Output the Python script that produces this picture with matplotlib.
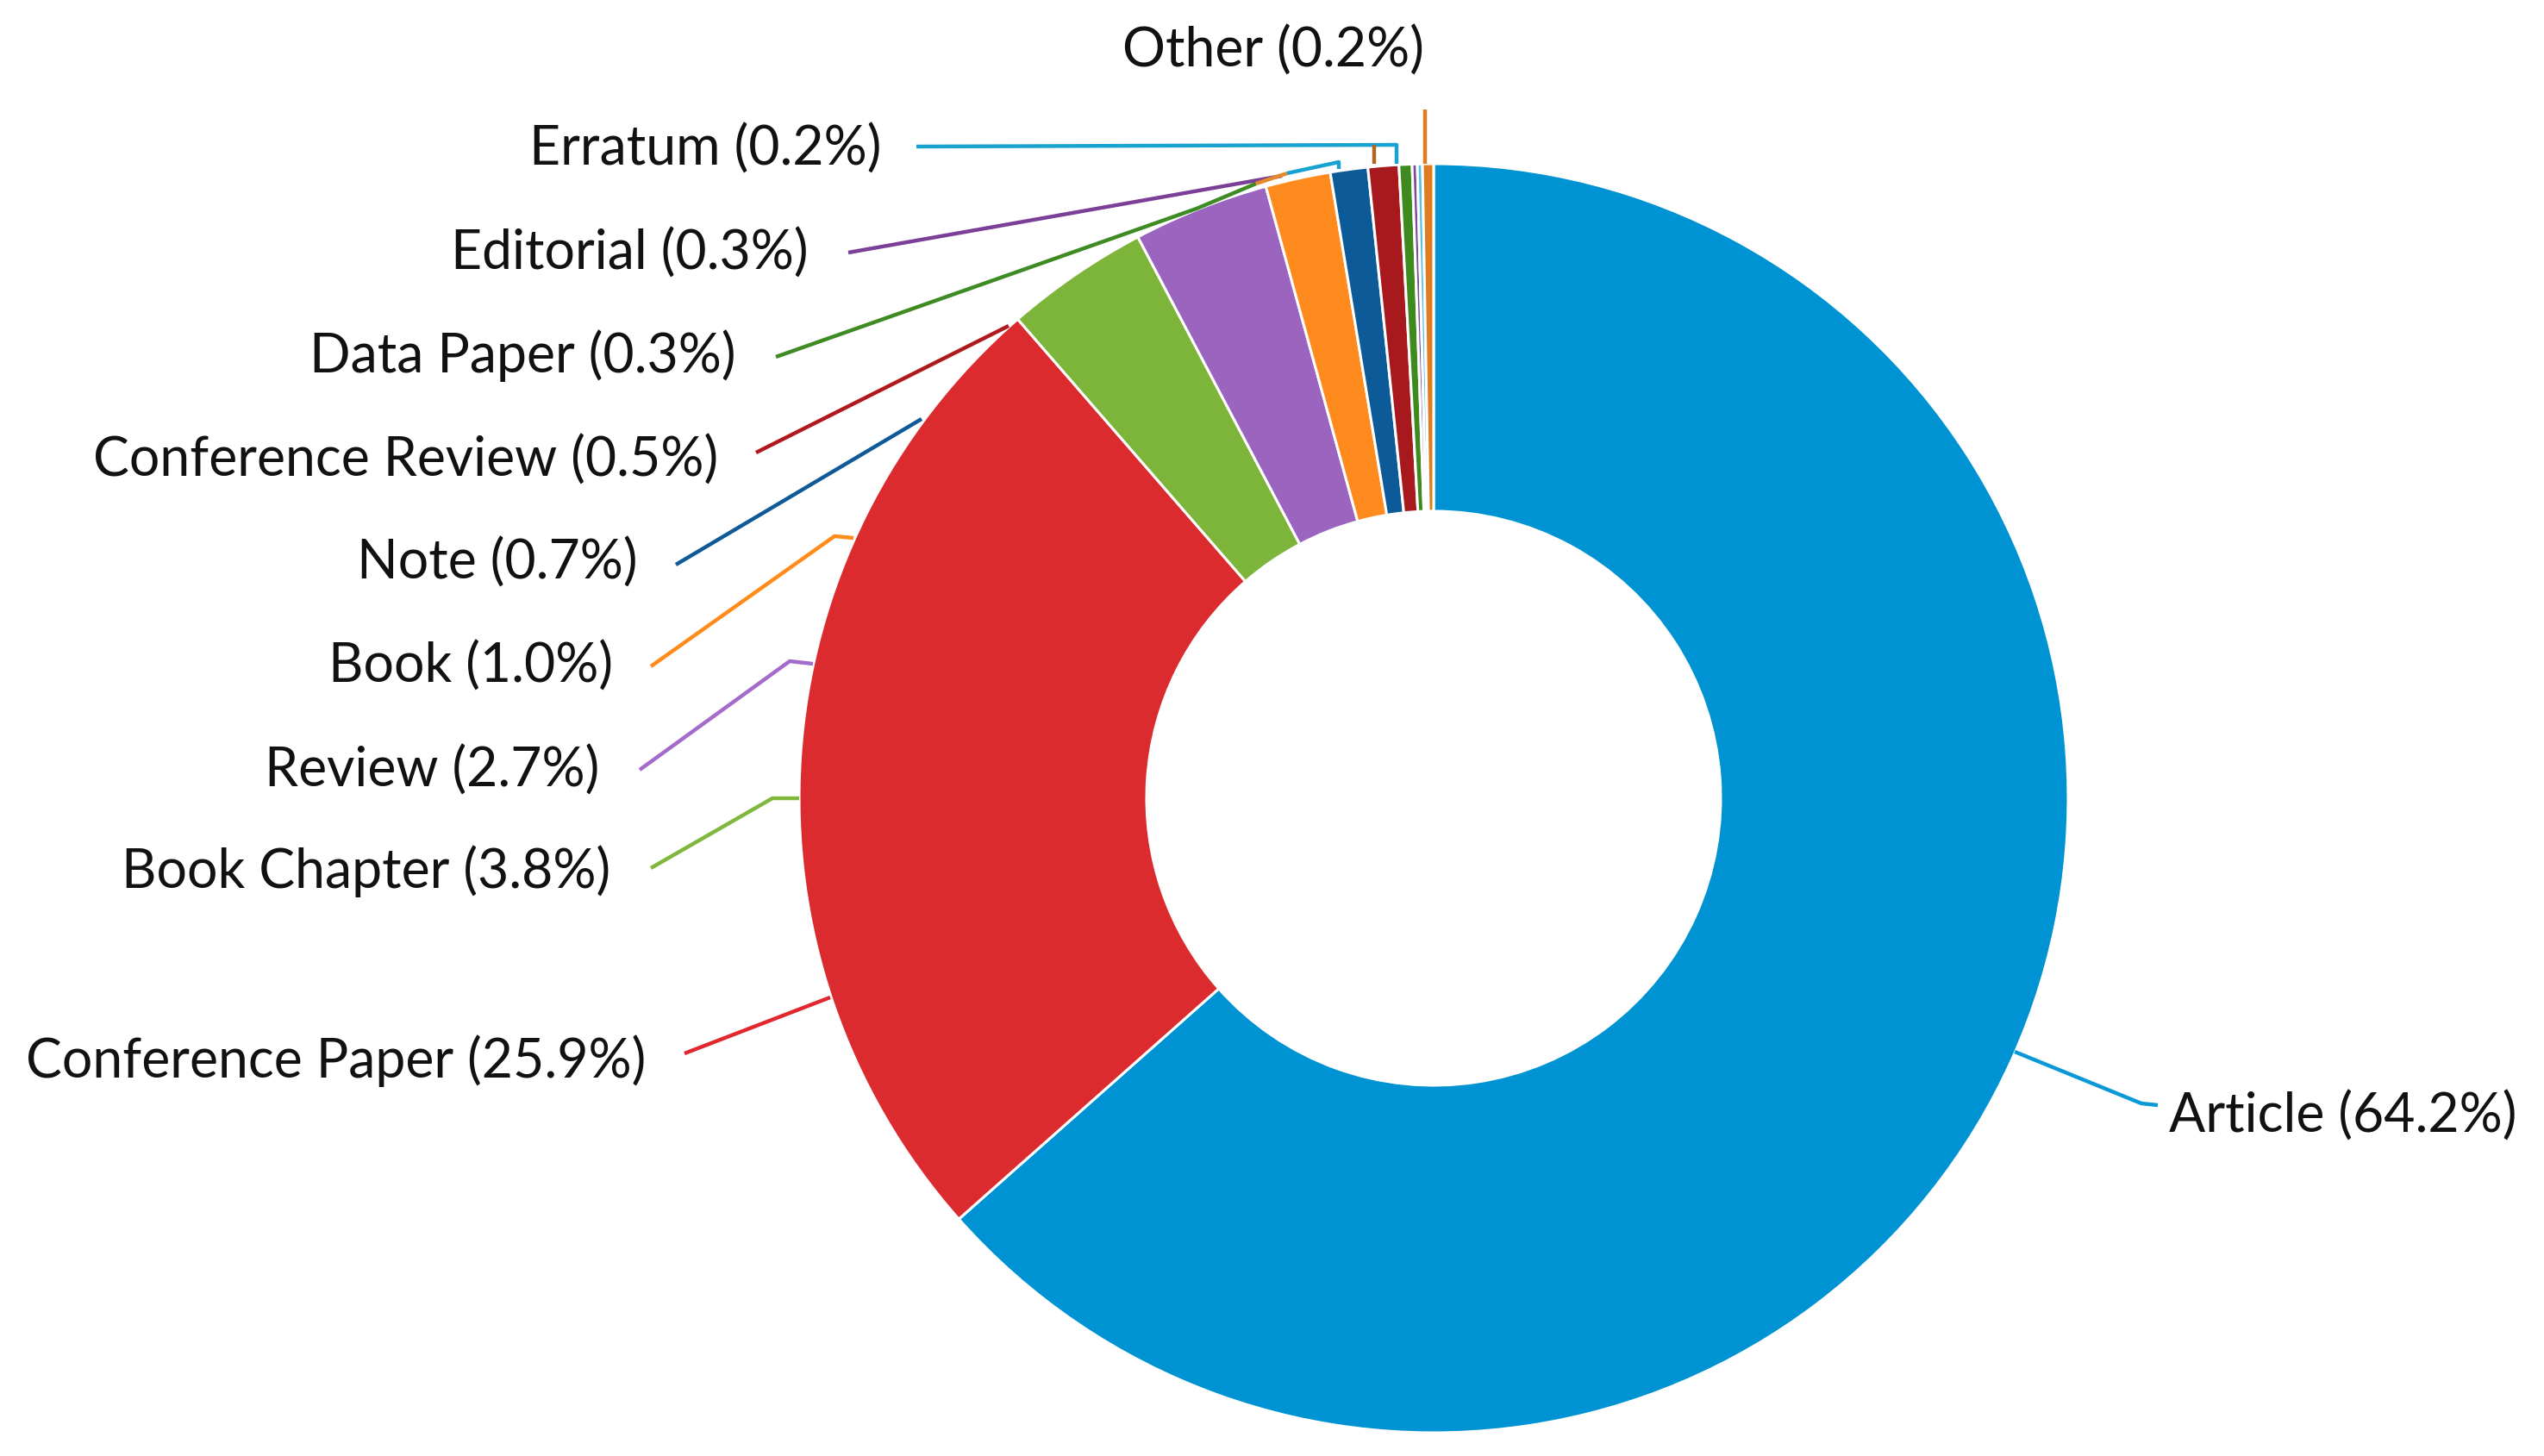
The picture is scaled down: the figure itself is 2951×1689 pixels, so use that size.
import matplotlib
matplotlib.use("Agg")
import matplotlib.pyplot as plt

W, H = 2951, 1689

# ---------------- data ----------------
categories = ["Article", "Conference Paper", "Book Chapter", "Review", "Book",
              "Note", "Conference Review", "Data Paper", "Editorial", "Erratum", "Other"]
label_pct = [64.2, 25.9, 3.8, 2.7, 1.0, 0.7, 0.5, 0.3, 0.3, 0.2, 0.2]
# wedge sizes as they are drawn in the picture (percent of the ring)
wedge_share = [63.3, 25.1, 3.65, 3.45, 1.65, 0.95, 0.78, 0.33, 0.13, 0.13, 0.28]

# ---------------- style ----------------
slice_colors = ["#0093d3", "#db2b2f", "#7db53a", "#9b64bf", "#ff8a1e", "#0c5a97",
                "#a8191e", "#3f8a1f", "#7d4b9b", "#5bc0de", "#e07b1f"]
leader_colors = ["#0a99d6", "#e0282e", "#7fb83c", "#a46bcb", "#ff8c1a", "#0e5a98",
                 "#b0181e", "#3e8a23", "#7b3f98", "#17a2cf", "#e07b1f"]

# ---------------- layout (reference pixel space, y downwards) ----------------
center = (1663, 926)
r_out, r_in = 736, 333

# label anchor: (x, cap-centre y, horizontal alignment)
label_pos = {
    "Article": (2516, 1292, "left"),
    "Conference Paper": (749, 1228, "right"),
    "Book Chapter": (708, 1008, "right"),
    "Review": (695, 891, "right"),
    "Book": (711, 770, "right"),
    "Note": (740, 650, "right"),
    "Conference Review": (833, 531, "right"),
    "Data Paper": (854, 410, "right"),
    "Editorial": (938, 291, "right"),
    "Erratum": (1022, 170, "right"),
    "Other": (1477, 56, "center"),
}
leaders = {
    "Article": [(2337, 1220), (2484, 1280), (2503, 1282)],
    "Conference Paper": [(794, 1222), (963, 1157)],
    "Book Chapter": [(755, 1007), (896, 926), (927, 926)],
    "Review": [(742, 893), (916, 767), (943, 770)],
    "Book": [(755, 773), (968, 622), (990, 624)],
    "Note": [(784, 655), (1069, 486)],
    "Conference Review": [(877, 525), (1170, 378)],
    "Data Paper": [(900, 414), (1388, 242), (1457, 213)],
    "Editorial": [(984, 293), (1487, 204)],
    "Erratum": [(1063, 170), (1620, 168), (1620, 190)],
    "Other": [(1653, 127), (1653, 190)],
}
extra_strokes = [
    ([(1594, 168), (1594, 190)], "#b0661e"),
    ([(1457, 213), (1493, 201)], "#e58a2a"),
    ([(1493, 201), (1553, 188), (1553, 196)], "#17a2cf"),
]

plt.rcParams["font.family"] = ["Lato", "DejaVu Sans"]
fig = plt.figure(figsize=(W / 100, H / 100), dpi=100)
ax = fig.add_axes([0, 0, 1, 1])

ax.pie(wedge_share, colors=slice_colors, radius=r_out,
       center=(center[0], H - center[1]), startangle=90, counterclock=False,
       wedgeprops=dict(width=r_out - r_in, edgecolor="white", linewidth=2.2))

ax.set_xlim(0, W)
ax.set_ylim(0, H)
ax.set_aspect("equal")
ax.axis("off")

def to_plot(pts):
    return [p[0] for p in pts], [H - p[1] for p in pts]

for name, col in zip(categories, leader_colors):
    xs, ys = to_plot(leaders[name])
    ax.plot(xs, ys, color=col, lw=3.2, solid_capstyle="butt", zorder=3)
for pts, col in extra_strokes:
    xs, ys = to_plot(pts)
    ax.plot(xs, ys, color=col, lw=3.2, solid_capstyle="butt", zorder=3)

cap_half = 22
for name, pct in zip(categories, label_pct):
    x, y, ha = label_pos[name]
    ax.text(x, H - (y + cap_half), f"{name} ({pct:.1f}%)", ha=ha, va="baseline",
            fontsize=45, color="#111111", zorder=4)

fig.savefig("out.png", dpi=100, facecolor="white")
